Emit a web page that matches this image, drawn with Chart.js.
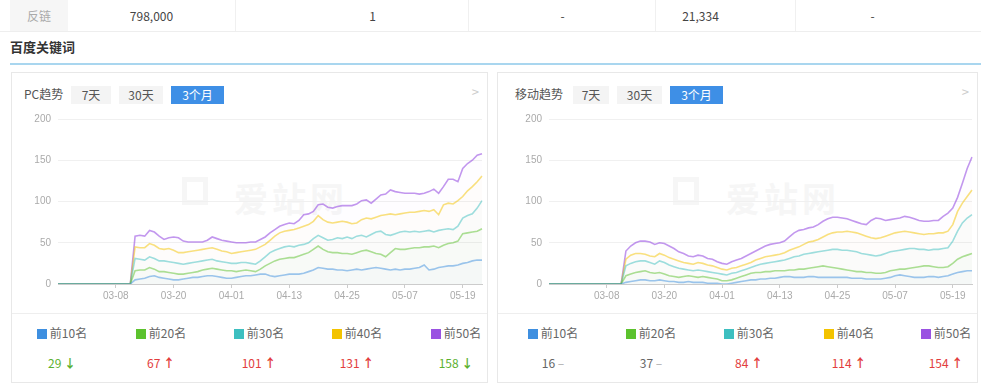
<!DOCTYPE html>
<html>
<head>
<meta charset="utf-8">
<script src="https://cdn.jsdelivr.net/npm/chart.js@4/dist/chart.umd.min.js"></script>
<style>
  body { margin: 0; width: 981px; height: 390px; background: #fff; position: relative; overflow: hidden;
         font-family: "Noto Sans CJK SC", "Noto Sans", sans-serif; color: #555; }
  .abs { position: absolute; }
  .row { left: 0; top: 0; width: 981px; height: 31px; border-bottom: 1px solid #eee; }
  .cell { top: 0; height: 31px; line-height: 31px; font-size: 12px; color: #444; text-align: center; }
  .sep { top: 0; width: 1px; height: 31px; background: #f0f0f0; }
  .title { left: 10px; top: 37px; font-size: 13px; font-weight: bold; color: #333; }
  .bar { left: 10px; top: 63px; width: 971px; height: 2px; background: #a9d6ef; }
  .panel { top: 72px; height: 311px; border: 1px solid #e8e8e8; box-sizing: border-box; }
  .hd { top: 12px; font-size: 12px; color: #555; }
  .btn { top: 13px; height: 18px; line-height: 18px; font-size: 12px; text-align: center; background: #f4f4f4; color: #555; }
  .btn.on { background: #3e8fe6; color: #fff; }
  .arrow { top: 9px; font-size: 13px; color: #ccc; }
  .wm { top: 100px; font-size: 34px; color: #f6f6f6; font-weight: bold; letter-spacing: 4px; }
  .logo { top: 104px; width: 26px; height: 28px; border: 5px solid #f6f6f6; box-sizing: border-box; }
  .line { left: 0; top: 240px; height: 1px; background: #eee; }
  .lg { top: 251px; width: 98px; text-align: center; font-size: 12px; color: #666; }
  .lg i { display: inline-block; width: 10px; height: 10px; margin-right: 3px; vertical-align: -1px; }
  .val { top: 281px; width: 98px; text-align: center; font-size: 12px; }
  .up { color: #e23d3d; }
  .down { color: #5cb130; }
  .flat { color: #666; }
</style>
</head>
<body>

<div class="abs row"></div>
<div class="abs" style="left:10px;top:0;width:58px;height:31px;background:#f6f6f6"></div>
<div class="abs cell" style="left:10px;width:58px;color:#aaa">反链</div>
<div class="abs sep" style="left:235px"></div>
<div class="abs sep" style="left:468px"></div>
<div class="abs sep" style="left:655px"></div>
<div class="abs sep" style="left:795px"></div>
<div class="abs cell" style="left:68px;width:167px">798,000</div>
<div class="abs cell" style="left:280px;width:185px">1</div>
<div class="abs cell" style="left:470px;width:185px">-</div>
<div class="abs cell" style="left:608px;width:185px">21,334</div>
<div class="abs cell" style="left:780px;width:185px">-</div>

<div class="abs title">百度关键词</div>
<div class="abs bar"></div>

<div class="abs panel" id="p1" style="left:11px;width:477px">
  <div class="abs hd" style="left:12px">PC趋势</div>
  <div class="abs btn" style="left:59px;width:40px">7天</div>
  <div class="abs btn" style="left:107px;width:44px">30天</div>
  <div class="abs btn on" style="left:159px;width:53px">3个月</div>
  <div class="abs arrow" style="right:8px">&gt;</div>
  <div class="abs logo" style="left:170px"></div>
  <div class="abs wm" style="left:222px">爱站网</div>
  <canvas class="abs" id="pcChart" width="475" height="200" style="left:0;top:33px"></canvas>
  <div class="abs line" style="width:475px"></div>
</div>

<div class="abs panel" id="p2" style="left:497px;width:481px">
  <div class="abs hd" style="left:17px">移动趋势</div>
  <div class="abs btn" style="left:75px;width:36px">7天</div>
  <div class="abs btn" style="left:119px;width:45px">30天</div>
  <div class="abs btn on" style="left:172px;width:53px">3个月</div>
  <div class="abs arrow" style="right:8px">&gt;</div>
  <div class="abs logo" style="left:175px"></div>
  <div class="abs wm" style="left:228px">爱站网</div>
  <canvas class="abs" id="mChart" width="479" height="200" style="left:0;top:33px"></canvas>
  <div class="abs line" style="width:479px"></div>
</div>

<script>
const dates = [
  "02-24","02-25","02-26","02-27","02-28",
  "03-01","03-02","03-03","03-04","03-05","03-06","03-07","03-08","03-09","03-10",
  "03-11","03-12","03-13","03-14","03-15","03-16","03-17","03-18","03-19","03-20",
  "03-21","03-22","03-23","03-24","03-25","03-26","03-27","03-28","03-29","03-30","03-31",
  "04-01","04-02","04-03","04-04","04-05","04-06","04-07","04-08","04-09","04-10",
  "04-11","04-12","04-13","04-14","04-15","04-16","04-17","04-18","04-19","04-20",
  "04-21","04-22","04-23","04-24","04-25","04-26","04-27","04-28","04-29","04-30",
  "05-01","05-02","05-03","05-04","05-05","05-06","05-07","05-08","05-09","05-10",
  "05-11","05-12","05-13","05-14","05-15","05-16","05-17","05-18","05-19","05-20",
  "05-21","05-22","05-23"
];
const tickDates = ["03-08", "03-20", "04-01", "04-13", "04-25", "05-07", "05-19"];
const seriesNames = ["前10名", "前20名", "前30名", "前40名", "前50名"];
const legendColors = ["#3e8fe0", "#5cc22d", "#3dbfc0", "#f3c300", "#9a52e2"];
const lineColors = ["rgba(62,143,224,0.5)", "rgba(92,194,45,0.5)", "rgba(61,191,192,0.5)", "rgba(243,195,0,0.5)", "rgba(154,82,226,0.6)"];
const fillColors = ["rgba(62,143,224,0.015)", "rgba(92,194,45,0.015)", "rgba(61,191,192,0.015)", "rgba(243,195,0,0.015)", "rgba(154,82,226,0.012)"];

// PC 趋势
const pcTop10 = [0,0,0,0,0,0,0,0,0,0,0,0,0,0,0,0,
  5,6,7,9,10,8,7,6,5,5, 6,7,8,8,9,10,10,9,8,7, 7,8,9,10,10,11,12,12,10,9,
  10,11,12,12,12,13,15,17,20,19, 18,18,17,17,16,17,18,17,18,19, 20,19,18,17,18,17,18,18,19,20,
  23,17,18,20,21,22,22,23,25,26, 28,29,29];
const pcTop20 = [0,0,0,0,0,0,0,0,0,0,0,0,0,0,0,0,
  16,17,17,20,18,15,15,14,13,12, 12,13,14,15,17,18,19,18,17,16, 16,15,16,17,16,15,18,22,25,28,
  30,31,32,32,34,36,38,42,46,42, 39,38,38,37,37,36,38,40,41,39, 37,36,33,38,43,42,42,43,44,44,
  45,45,46,44,47,49,50,52,61,62, 63,64,67];
const pcTop30 = [0,0,0,0,0,0,0,0,0,0,0,0,0,0,0,0,
  31,30,29,33,31,28,28,27,26,25, 24,25,26,27,28,29,30,28,27,26, 25,25,26,26,25,24,28,33,38,41,
  43,45,46,45,47,48,50,55,59,56, 53,54,56,55,57,55,58,59,57,60, 63,64,60,59,61,63,64,63,64,63,
  64,65,63,65,66,67,66,70,80,83, 85,92,101];
const pcTop40 = [0,0,0,0,0,0,0,0,0,0,0,0,0,0,0,0,
  45,44,44,49,47,43,42,43,41,38, 38,39,40,41,42,43,44,42,40,39, 37,38,39,40,41,42,45,48,53,58,
  62,64,65,66,68,70,72,76,83,78, 75,74,75,76,75,73,74,78,80,79, 81,83,84,85,84,85,86,87,87,88,
  89,88,90,84,96,98,97,101,106,113, 118,124,131];
const pcTop50 = [0,0,0,0,0,0,0,0,0,0,0,0,0,0,0,0,
  58,59,58,65,63,58,54,56,57,56, 52,51,51,51,51,53,57,55,53,52, 51,50,50,50,51,51,54,57,62,66,
  70,72,74,73,77,84,85,88,96,97, 93,92,94,95,95,95,97,101,102,98, 103,108,109,114,112,111,110,110,110,109,
  110,112,115,110,118,127,127,124,140,146, 150,156,158];

// 移动趋势
const mTop10 = [0,0,0,0,0,0,0,0,0,0,0,0,0,0,0,0,
  2,3,4,5,5,4,4,5,4,3, 3,2,2,3,2,2,2,1,1,1, 0,0,1,2,3,4,5,5,6,6,
  7,7,8,9,9,8,8,8,9,9, 8,8,8,8,8,8,8,7,7,7, 6,6,6,6,7,8,10,11,10,9,
  8,8,8,9,9,8,9,10,12,14, 15,16,16];
const mTop20 = [0,0,0,0,0,0,0,0,0,0,0,0,0,0,0,0,
  10,12,14,15,16,14,13,14,12,10, 9,8,9,10,9,8,9,8,7,6, 4,4,5,7,9,11,13,14,14,15,
  15,16,16,16,17,17,18,18,19,20, 21,22,21,20,19,18,17,16,15,15, 14,14,13,13,14,16,17,18,18,19,
  20,21,22,22,21,20,20,21,25,30, 33,35,37];
const mTop30 = [0,0,0,0,0,0,0,0,0,0,0,0,0,0,0,0,
  22,25,27,28,28,26,24,28,26,23, 21,19,18,17,16,17,16,15,14,13, 12,11,13,14,16,18,20,22,24,25,
  26,27,28,29,31,33,34,36,37,38, 39,40,41,42,42,41,41,40,39,37, 36,35,34,35,37,39,40,41,42,43,
  43,42,42,41,42,42,43,44,52,64, 74,80,84];
const mTop40 = [0,0,0,0,0,0,0,0,0,0,0,0,0,0,0,0,
  30,35,37,37,36,34,33,37,35,32, 30,28,26,25,24,26,25,23,22,20, 18,17,19,20,22,24,26,29,31,33,
  34,35,36,38,41,43,45,48,51,52, 54,57,60,62,63,63,64,63,62,60, 58,56,55,56,58,60,62,63,64,63,
  62,61,60,61,61,62,62,64,72,88, 98,106,114];
const mTop50 = [0,0,0,0,0,0,0,0,0,0,0,0,0,0,0,0,
  40,46,50,52,52,51,48,50,49,46, 43,39,37,34,33,35,34,31,30,27, 25,24,27,29,31,34,37,40,43,46,
  48,49,50,52,57,62,65,66,68,69, 72,76,79,81,81,80,79,77,75,73, 72,77,80,79,77,78,79,80,82,81,
  79,77,76,76,77,77,82,86,92,105, 122,140,154];

// 底部统计
const pcLatest = [29, 67, 101, 131, 158];
const pcTrend = ["down", "up", "up", "up", "down"];
const mLatest = [16, 37, 84, 114, 154];
const mTrend = ["flat", "flat", "up", "up", "up"];
const pcCenters = [50, 149, 247, 345, 444];
const mCenters = [55, 153, 251, 351, 448];

function addLegend(panelId, latest, trend, centers) {
  const panel = document.getElementById(panelId);
  for (let i = 0; i < 5; i++) {
    const lg = document.createElement("div");
    lg.className = "abs lg";
    lg.style.left = (centers[i] - 49) + "px";
    lg.innerHTML = '<i style="background:' + legendColors[i] + '"></i>' + seriesNames[i];
    panel.appendChild(lg);
    const v = document.createElement("div");
    v.className = "abs val " + trend[i];
    v.style.left = (centers[i] - 49) + "px";
    const mark = trend[i] === "flat" ? '<span style="color:#aaa">–</span>' : "<b>" + (trend[i] === "up" ? "↑" : "↓") + "</b>";
    v.innerHTML = latest[i] + " " + mark;
    panel.appendChild(v);
  }
}

function makeChart(id, series, axisWidth) {
  return new Chart(document.getElementById(id), {
    type: "line",
    data: {
      labels: dates,
      datasets: series.map((d, i) => ({
        label: seriesNames[i],
        data: d,
        borderColor: lineColors[i],
        backgroundColor: fillColors[i],
        borderWidth: 1.6,
        pointRadius: 0,
        tension: 0,
        fill: "origin"
      }))
    },
    options: {
      responsive: false,
      animation: false,
      layout: { padding: { top: 11, right: 5 } },
      plugins: { legend: { display: false }, tooltip: { enabled: false } },
      scales: {
        x: {
          grid: { drawOnChartArea: false, drawTicks: true, tickLength: 4, color: "#ccc" },
          border: { color: "#ccc" },
          ticks: {
            autoSkip: false, maxRotation: 0, color: "#aaa", font: { size: 10 }, padding: 2,
            callback: (v, i) => (tickDates.includes(dates[i]) ? dates[i] : null)
          },
          afterFit: (s) => { s.height = 22; }
        },
        y: {
          min: 0, max: 200,
          ticks: { stepSize: 50, color: "#aaa", font: { size: 10 }, padding: 7 },
          grid: { color: "#f0f0f0", drawTicks: false },
          border: { display: false },
          afterFit: (s) => { s.width = axisWidth; }
        }
      }
    }
  });
}

makeChart("pcChart", [pcTop10, pcTop20, pcTop30, pcTop40, pcTop50], 46);
makeChart("mChart", [mTop10, mTop20, mTop30, mTop40, mTop50], 51);
addLegend("p1", pcLatest, pcTrend, pcCenters);
addLegend("p2", mLatest, mTrend, mCenters);
</script>
</body>
</html>
